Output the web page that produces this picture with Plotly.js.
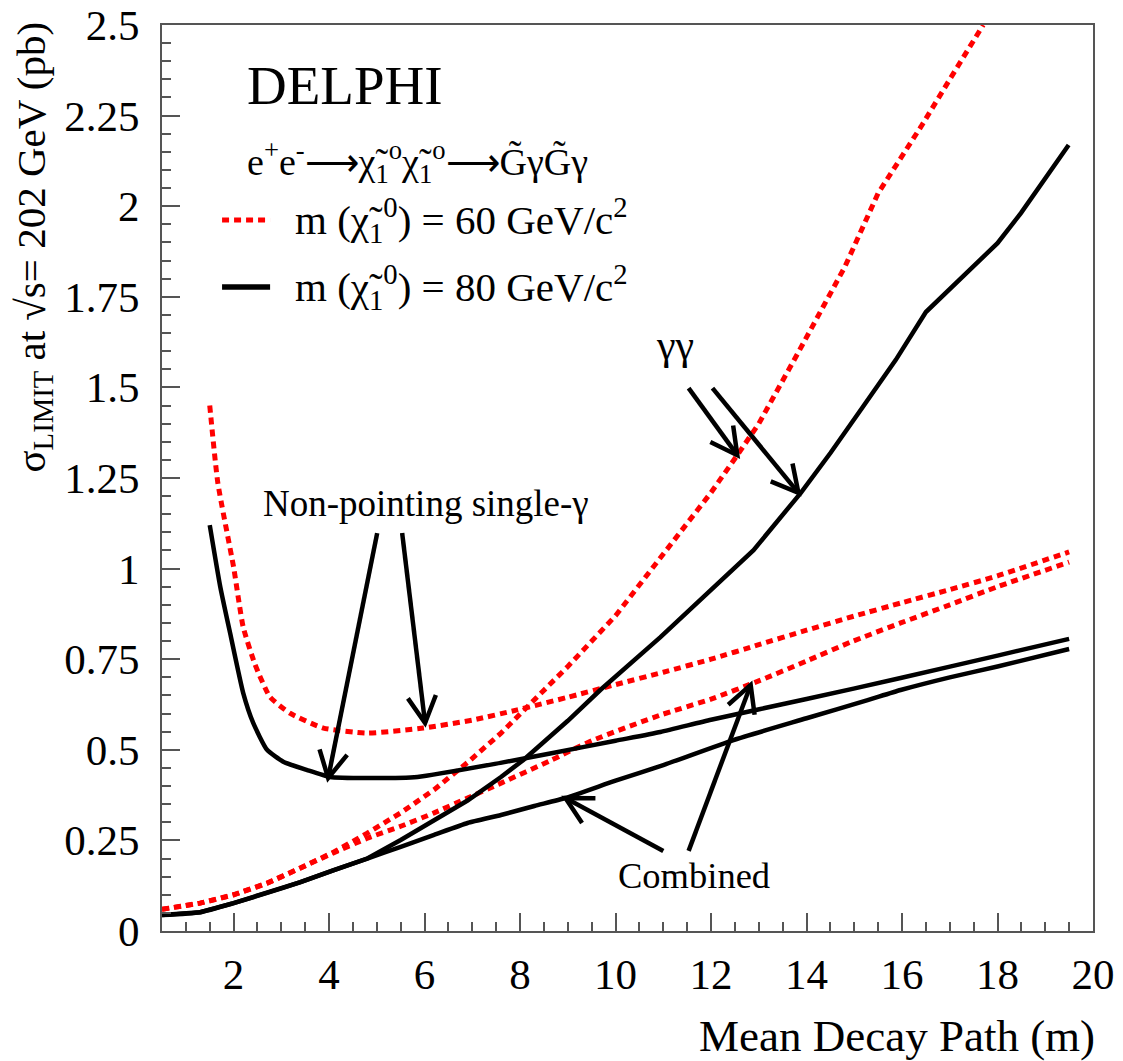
<!DOCTYPE html>
<html>
<head>
<meta charset="utf-8">
<script src="https://cdn.plot.ly/plotly-3.0.1.min.js"></script>
<style>html,body{margin:0;padding:0;background:#fff;}</style>
</head>
<body>
<div id="chart" style="width:1123px;height:1061px;"></div>
<script>
// ---- data ----
// m(chi) = 60 GeV/c^2 (red dotted)
const xSingle60 = [1.5, 1.67, 2.0, 2.2, 2.45, 2.76, 3.18, 3.88, 4.8, 5.97, 7.0, 7.94, 9.0, 10.0, 11.0, 12.0, 13.0, 14.0, 15.0, 16.0, 17.0, 18.0, 19.5];
const ySingle60 = [1.45, 1.236, 1.004, 0.839, 0.735, 0.646, 0.601, 0.560, 0.546, 0.560, 0.582, 0.610, 0.645, 0.680, 0.714, 0.750, 0.790, 0.830, 0.869, 0.906, 0.942, 0.980, 1.046];
const xGG60 = [0.5, 1.3, 2.0, 2.7, 3.4, 4.1, 4.8, 5.5, 6.2, 6.9, 7.6, 8.15, 9.0, 10.0, 11.0, 12.0, 12.55, 13.0, 13.8, 14.8, 15.5, 16.4, 17.0, 17.7];
const yGG60 = [0.06, 0.077, 0.10, 0.132, 0.174, 0.218, 0.27, 0.326, 0.39, 0.465, 0.546, 0.618, 0.73, 0.87, 1.04, 1.21, 1.313, 1.40, 1.59, 1.832, 2.036, 2.22, 2.35, 2.5];
const xComb60 = [0.5, 1.3, 2.0, 2.7, 3.4, 4.1, 4.8, 5.5, 6.2, 6.9, 7.6, 8.63, 9.5, 10.94, 12.0, 13.0, 14.0, 14.92, 15.97, 17.0, 18.0, 19.5];
const yComb60 = [0.06, 0.077, 0.10, 0.132, 0.174, 0.216, 0.256, 0.289, 0.326, 0.367, 0.408, 0.47, 0.525, 0.596, 0.64, 0.69, 0.745, 0.797, 0.85, 0.90, 0.95, 1.018];
// m(chi) = 80 GeV/c^2 (black solid)
const xSingle80 = [1.5, 1.72, 1.93, 2.2, 2.41, 2.7, 3.04, 3.54, 4.02, 4.8, 5.85, 7.59, 8.63, 10.0, 10.94, 12.0, 14.0, 15.97, 18.0, 19.5];
const ySingle80 = [1.12, 0.95, 0.82, 0.657, 0.574, 0.50, 0.467, 0.444, 0.425, 0.422, 0.425, 0.464, 0.49, 0.525, 0.549, 0.583, 0.64, 0.698, 0.76, 0.806];
const xGG80 = [0.5, 1.3, 2.0, 2.7, 3.4, 4.1, 4.8, 5.5, 6.2, 6.9, 7.6, 8.07, 9.0, 9.68, 10.94, 11.78, 12.89, 13.88, 14.5, 15.2, 15.87, 16.5, 17.5, 18.0, 18.49, 19.49];
const yGG80 = [0.044, 0.052, 0.077, 0.105, 0.135, 0.168, 0.2, 0.251, 0.306, 0.36, 0.425, 0.472, 0.58, 0.665, 0.811, 0.913, 1.051, 1.209, 1.319, 1.45, 1.576, 1.708, 1.832, 1.898, 1.981, 2.169];
const xComb80 = [0.5, 1.3, 2.0, 2.7, 3.4, 4.1, 4.8, 5.5, 6.2, 6.9, 7.6, 8.3, 8.95, 10.0, 11.0, 12.47, 14.0, 15.28, 15.97, 17.0, 18.0, 19.5];
const yComb80 = [0.044, 0.052, 0.077, 0.105, 0.135, 0.168, 0.2, 0.232, 0.265, 0.298, 0.32, 0.345, 0.367, 0.415, 0.458, 0.527, 0.587, 0.637, 0.665, 0.70, 0.73, 0.778];

// axis ticks
const xTickVals = [2, 4, 6, 8, 10, 12, 14, 16, 18, 20];
const xTickText = ["2", "4", "6", "8", "10", "12", "14", "16", "18", "20"];
const yTickVals = [0, 0.25, 0.5, 0.75, 1, 1.25, 1.5, 1.75, 2, 2.25, 2.5];
const yTickText = ["0", "0.25", "0.5", "0.75", "1", "1.25", "1.5", "1.75", "2", "2.25", "2.5"];

// arrows: [tailX, tailY, tipX, tipY] in data units
const arrows = [
  [5.007, 1.098, 3.98, 0.422],
  [5.53, 1.098, 6.01, 0.574],
  [11.53, 1.498, 12.55, 1.313],
  [12.03, 1.498, 13.83, 1.209],
  [11.0, 0.221, 8.95, 0.367],
  [11.53, 0.221, 12.83, 0.679]
];

const FONT = "Liberation Serif";
const RED = "#ff0000";
const redLine = {color: RED, width: 5, dash: "7px,5px"};
const blackLine = {color: "#000", width: 4.5};
const smooth = {shape: "spline", smoothing: 0.5};

const traces = [
  {x: xSingle60, y: ySingle60, line: Object.assign({}, redLine, smooth)},
  {x: xGG60, y: yGG60, line: redLine},
  {x: xComb60, y: yComb60, line: Object.assign({}, redLine, smooth)},
  {x: xSingle80, y: ySingle80, line: Object.assign({}, blackLine, smooth)},
  {x: xGG80, y: yGG80, line: blackLine},
  {x: xComb80, y: yComb80, line: Object.assign({}, blackLine, smooth)}
].map(t => Object.assign({type: "scatter", mode: "lines", showlegend: false, hoverinfo: "skip"}, t));

// plot geometry
const M = {l: 162, r: 30, t: 25, b: 130};
const W = 1123, H = 1061;
const xR = [0.5, 20], yR = [0, 2.5];
const pxX = (W - M.l - M.r) / (xR[1] - xR[0]);
const pxY = (H - M.t - M.b) / (yR[1] - yR[0]);

const shapes = [];
const armLen = 30, armAng = 28 * Math.PI / 180;
arrows.forEach(a => {
  const [tx, ty, hx, hy] = a;
  shapes.push({type: "line", xref: "x", yref: "y", x0: tx, y0: ty, x1: hx, y1: hy,
               line: {color: "#000", width: 4.5}});
  let dx = (tx - hx) * pxX, dy = -(ty - hy) * pxY;
  const L = Math.hypot(dx, dy); dx /= L; dy /= L;
  const pts = [armAng, -armAng].map(t => {
    const rx = dx * Math.cos(t) - dy * Math.sin(t);
    const ry = dx * Math.sin(t) + dy * Math.cos(t);
    return [hx + rx * armLen / pxX, hy - ry * armLen / pxY];
  });
  shapes.push({type: "path", xref: "x", yref: "y",
    path: `M${pts[0][0]},${pts[0][1]} L${hx},${hy} L${pts[1][0]},${pts[1][1]}`,
    line: {color: "#000", width: 4.5}});
});
// legend samples
shapes.push({type: "line", xref: "x", yref: "y", x0: 1.758, x1: 2.764, y0: 1.962, y1: 1.962, line: {color: RED, width: 5, dash: "7px,5px"}});
shapes.push({type: "line", xref: "x", yref: "y", x0: 1.758, x1: 2.764, y0: 1.777, y1: 1.777, line: {color: "#000", width: 5.5}});

const chi = "\u03C7\u0303";
const ann = (text, x, y, size, extra) => Object.assign({
  text: text, x: x, y: y, xref: "x", yref: "y", showarrow: false,
  xanchor: "left", yanchor: "middle", font: {family: FONT, size: size, color: "#000"}
}, extra || {});

const annotations = [
  ann("DELPHI", 2.24, 2.332, 55),
  ann("e<sup>+</sup>e<sup>-</sup>\u27F6" + chi + "<sub>1</sub><sup>o</sup>" + chi + "<sub>1</sub><sup>o</sup>\u27F6G\u0303\u03B3G\u0303\u03B3", 2.24, 2.122, 38),
  ann("m (" + chi + "<sub>1</sub><sup>0</sup>) = 60 GeV/c<sup>2</sup>", 3.246, 1.962, 41),
  ann("m (" + chi + "<sub>1</sub><sup>0</sup>) = 80 GeV/c<sup>2</sup>", 3.246, 1.777, 41),
  ann("\u03B3\u03B3", 11.255, 1.617, 42, {xanchor: "center"}),
  ann("Non-pointing single-\u03B3", 2.58, 1.181, 37),
  ann("Combined", 10.0, 0.152, 36.5),
  {text: "\u03C3<sub>LIMIT</sub> at \u221As= 202 GeV (pb)", xref: "paper", yref: "paper",
   x: (33 - M.l) / (W - M.l - M.r), y: (H - M.b - 20) / (H - M.t - M.b),
   xanchor: "center", yanchor: "top", textangle: -90, showarrow: false,
   font: {family: FONT, size: 41, color: "#000"}},
  {text: "Mean Decay Path (m)", xref: "paper", yref: "paper",
   x: (1097 - M.l) / (W - M.l - M.r), y: (H - M.b - 1036) / (H - M.t - M.b),
   xanchor: "right", yanchor: "middle", showarrow: false,
   font: {family: FONT, size: 45, color: "#000"}}
];

const axisCommon = {
  showgrid: false, zeroline: false, showline: true, mirror: true,
  linecolor: "#555", linewidth: 2, ticks: "inside", ticklen: 18, tickwidth: 2, tickcolor: "#555",
  tickfont: {family: FONT, size: 43, color: "#000"}, tickmode: "array"
};

const layout = {
  width: W, height: H, margin: M,
  paper_bgcolor: "#fff", plot_bgcolor: "#fff",
  font: {family: FONT, color: "#000"},
  xaxis: Object.assign({}, axisCommon, {
    range: xR, tickvals: xTickVals, ticktext: xTickText, ticklabelstandoff: 4,
    minor: {tickmode: "linear", tick0: 0, dtick: 0.5, ticks: "inside", ticklen: 9, tickwidth: 2, tickcolor: "#555", showgrid: false}
  }),
  yaxis: Object.assign({}, axisCommon, {
    range: yR, tickvals: yTickVals, ticktext: yTickText, ticklabelstandoff: 12,
    minor: {tickmode: "linear", tick0: 0, dtick: 0.05, ticks: "inside", ticklen: 9, tickwidth: 2, tickcolor: "#555", showgrid: false}
  }),
  shapes: shapes,
  annotations: annotations,
  showlegend: false
};

Plotly.newPlot("chart", traces, layout, {displayModeBar: false, staticPlot: true});
</script>
</body>
</html>
